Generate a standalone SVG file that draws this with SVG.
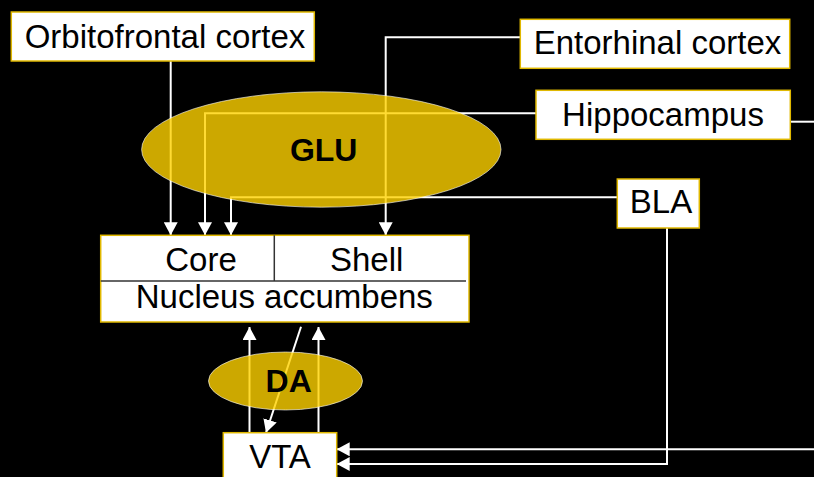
<svg xmlns="http://www.w3.org/2000/svg" width="814" height="477" viewBox="0 0 814 477">
<defs>
<marker id="ah" markerUnits="userSpaceOnUse" markerWidth="14" markerHeight="14" refX="13" refY="7" orient="auto">
<path d="M0,0 L13,7 L0,14 Z" fill="#ffffff"/>
</marker>
<style>
.box{fill:#ffffff;stroke:#e0b800;stroke-width:1.5}
.lbl{font-family:"Liberation Sans",Arial,sans-serif;font-size:33px;fill:#000000;text-anchor:middle}
.bold{font-family:"Liberation Sans",Arial,sans-serif;font-size:32px;font-weight:bold;fill:#000000;text-anchor:middle}
.oval{fill:#ffd200;fill-opacity:0.8;stroke:#ffffff;stroke-opacity:0.6;stroke-width:1}
.con{fill:none;stroke:#ffffff;stroke-width:2}
.arr{marker-end:url(#ah)}
.div{stroke:#333333;stroke-width:1.5}
</style>
</defs>
<rect x="0" y="0" width="814" height="477" fill="#000000"/>
<g id="connectors">
<path class="con arr" d="M170.7,61 V235.3"/>
<path class="con arr" d="M520.3,37.3 H385.7 V235.3"/>
<path class="con arr" d="M536,113.3 H205 V235.3"/>
<path class="con" d="M790.3,121.7 H814"/>
<path class="con arr" d="M617.3,197.3 H231 V235.3"/>
<path class="con arr" d="M667,228 V464 H336.7"/>
<path class="con arr" d="M814,449.3 H336.7"/>
<path class="con arr" d="M249.5,432.7 V327"/>
<path class="con arr" d="M318.5,432.7 V327"/>
<path class="con arr" d="M301,326.7 L266,432.7"/>
</g>
<g id="glu">
<ellipse class="oval" cx="321.3" cy="149.5" rx="179.7" ry="57.7"/>
<text class="bold" x="323.7" y="161">GLU</text>
</g>
<g id="da">
<ellipse class="oval" cx="285.5" cy="381" rx="77" ry="29"/>
<text class="bold" x="288.7" y="392">DA</text>
</g>
<g id="orbitofrontal">
<rect class="box" x="11.3" y="12" width="303" height="49"/>
<text class="lbl" x="165" y="48">Orbitofrontal cortex</text>
</g>
<g id="entorhinal">
<rect class="box" x="520.3" y="19.3" width="269.4" height="49"/>
<text class="lbl" x="657.5" y="54">Entorhinal cortex</text>
</g>
<g id="hippocampus">
<rect class="box" x="536" y="90.3" width="254.3" height="49"/>
<text class="lbl" x="663" y="126">Hippocampus</text>
</g>
<g id="bla">
<rect class="box" x="617.3" y="179" width="82" height="49"/>
<text class="lbl" x="661" y="213">BLA</text>
</g>
<g id="nucleus-accumbens">
<rect class="box" x="100.7" y="235.3" width="368.3" height="86.7"/>
<line class="div" x1="274.3" y1="235.3" x2="274.3" y2="281"/>
<line class="div" x1="100.7" y1="281" x2="466" y2="281"/>
<text class="lbl" x="201" y="271">Core</text>
<text class="lbl" x="366.7" y="271">Shell</text>
<text class="lbl" x="284.3" y="308">Nucleus accumbens</text>
</g>
<g id="vta">
<rect class="box" x="223.3" y="432.7" width="113.4" height="50"/>
<text class="lbl" x="280" y="468">VTA</text>
</g>
</svg>
